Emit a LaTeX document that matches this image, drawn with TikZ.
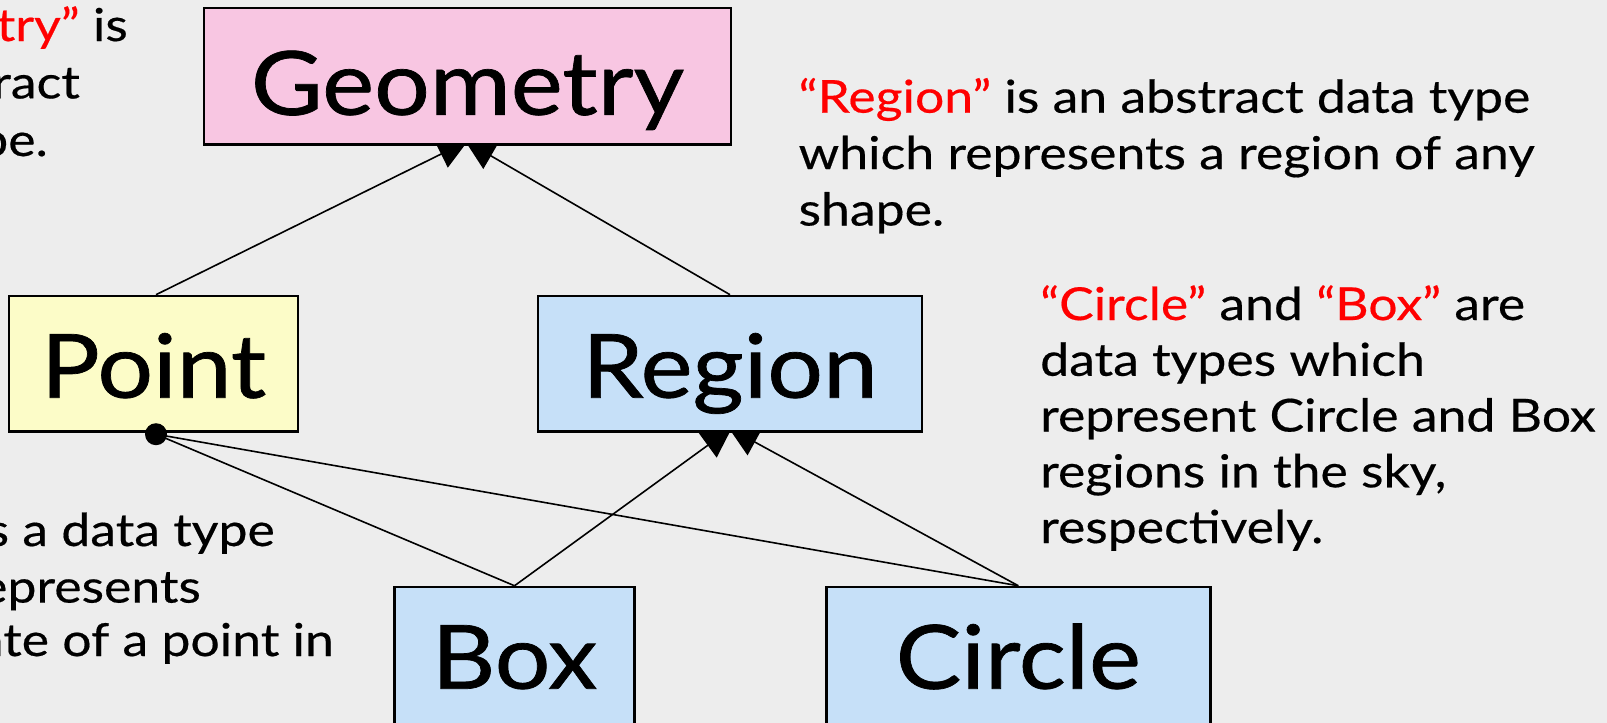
\documentclass[tikz,border=0pt]{standalone}
\usepackage{fontspec}
\setmainfont{Lato}
\newfontfamily\bodyfont[FakeStretch=1.14,FakeBold=0.4]{Lato}
\newfontfamily\labelfont[FakeStretch=1.11,FakeBold=0.8]{Lato}
\usetikzlibrary{arrows.meta,calc}
\definecolor{bg}{RGB}{237,237,237}
\definecolor{geofill}{RGB}{248,198,226}
\definecolor{ptfill}{RGB}{252,252,200}
\definecolor{rgfill}{RGB}{198,224,248}
\definecolor{hl}{RGB}{255,0,0}
\pgfdeclarelayer{background}
\pgfsetlayers{background,main}
\begin{document}
\begin{tikzpicture}[x=1pt,y=-1pt,
  cls/.style={draw=black, line width=2.5pt, inner sep=0pt,
    font=\labelfont\fontsize{88.6}{90}\selectfont, text depth=0pt},
  txt/.style={anchor=base west, inner sep=0pt,
    font=\bodyfont\fontsize{45.4}{56}\selectfont},
  frag/.style={anchor=base east, inner sep=0pt,
    font=\bodyfont\fontsize{45.4}{56}\selectfont},
  link/.style={line width=1.6pt, draw=black},
  gen/.style={link, -{Triangle[length=30pt,width=30pt]}},
  dotend/.style={circle, fill=black, minimum size=22pt, inner sep=0pt}
]
\useasboundingbox (0,0) rectangle (1607,723);
\clip (0,0) rectangle (1607,723);

% class boxes
\node[cls, fill=geofill, minimum width=527pt, minimum height=136.5pt, text height=77pt] (geo) at (467.5,76.3) {Geometry};
\node[cls, fill=ptfill, minimum width=289pt, minimum height=135.5pt, text height=68pt] (point) at (153.5,363.7) {Point};
\node[cls, fill=rgfill, minimum width=384pt, minimum height=135.5pt, text height=68pt] (region) at (730,363.7) {Region};
\node[cls, fill=rgfill, minimum width=240pt, minimum height=145pt, text height=58.4pt] (box) at (514.5,659.5) {Box};
\node[cls, fill=rgfill, minimum width=384pt, minimum height=145pt, text height=58.4pt] (circle) at (1018.3,659.5) {Circle};

\node[dotend] (dot) at ($(point.south)+(2.5,1.5)$) {};

% connectors (behind the boxes)
\begin{pgfonlayer}{background}
\fill[bg] (0,0) rectangle (1607,723);
\draw[gen] ($(point.north)+(2.5,0)$) -- ($(geo.south)+(0.5,-5)$);
\draw[gen] (region.north) -- ($(geo.south)+(-2.5,-5)$);
\draw[gen] (box.north) -- ($(region.south)+(2,-5)$);
\draw[gen] (circle.north) -- ($(region.south)+(-1.5,-5)$);
\draw[link] (dot.center) -- (box.north);
\draw[link] (dot.center) -- (circle.north);
\end{pgfonlayer}

% texts cut off by the left edge, as in the reference
\node[frag] (g1) at (128,41) {\textcolor{hl}{try”} is};
\node[frag] (g2) at (80,98.4) {ract};
\node[frag] (g3) at (48,156) {pe.};
\node[frag] (p1) at (275,546) {s a data type};
\node[frag] (p2) at (201,602.6) {epresents};
\node[frag] (p3) at (334,656) {ate of a point in};

% right texts
\node[txt] (r1) at (798.4,112.7) {\textcolor{hl}{“Region”} is an abstract data type};
\node[txt] (r2) at (798.4,169.1) {which represents a region of any};
\node[txt] (r3) at (798.4,225.5) {shape.};
\node[txt] (c1) at (1040,320) {\textcolor{hl}{“Circle”} and \textcolor{hl}{“Box”} are};
\node[txt] (c2) at (1040,375.75) {data types which};
\node[txt] (c3) at (1040,431.5) {represent Circle and Box};
\node[txt] (c4) at (1040,487.25) {regions in the sky,};
\node[txt] (c5) at (1040,543) {respectively.};
\end{tikzpicture}
\end{document}
